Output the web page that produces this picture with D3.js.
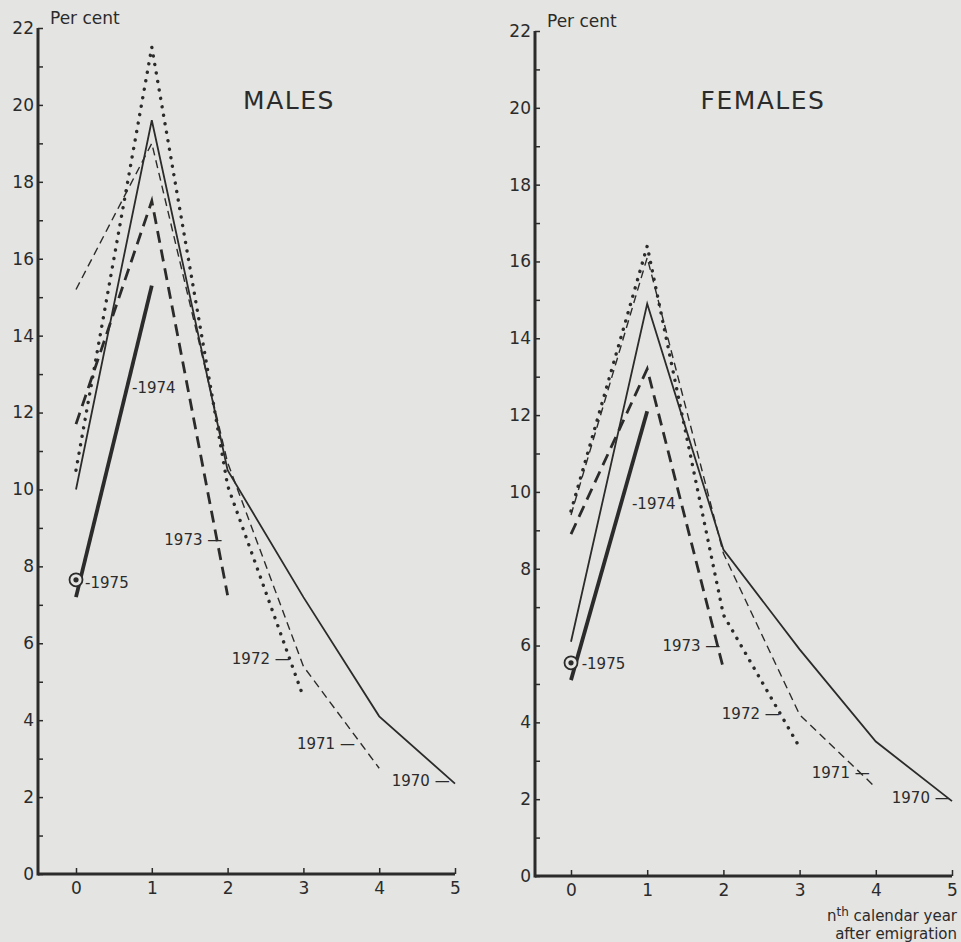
<!DOCTYPE html>
<html>
<head>
<meta charset="utf-8">
<script src="https://cdn.jsdelivr.net/npm/d3@7"></script>
<style>
  body { margin: 0; background: #e4e4e2; }
  svg text { font-family: "DejaVu Sans", sans-serif; fill: #2b2b2b; }
</style>
</head>
<body>
<script>
var w = 961, h = 942;

// years after emigration
var years = [0, 1, 2, 3, 4, 5];
var yTicks = d3.range(0, 23);
var cohorts = ["1970", "1971", "1972", "1973", "1974", "1975"];

// males, per cent re-emigrated by cohort
var males1970 = [10.0, 19.6, 10.5, 7.2, 4.1, 2.35];
var males1971 = [15.2, 19.0, 10.7, 5.4, 2.75];
var males1972 = [10.5, 21.5, 10.1, 4.6];
var males1973 = [11.7, 17.5, 7.25];
var males1974 = [7.2, 15.3];
var males1975 = [7.65];

// females
var females1970 = [6.1, 14.9, 8.5, 5.9, 3.5, 1.95];
var females1971 = [9.4, 16.1, 8.4, 4.2, 2.3];
var females1972 = [9.5, 16.4, 6.8, 3.35];
var females1973 = [8.9, 13.2, 5.4];
var females1974 = [5.1, 12.1];
var females1975 = [5.55];

// where the cohort labels sit, in data units [year, per cent]
var malesLabelPos = [[4.93, 2.3], [3.68, 3.25], [2.82, 5.45], [1.93, 8.55], [0.74, 12.5], [0.12, 7.45]];
var femalesLabelPos = [[4.97, 1.9], [3.92, 2.55], [2.74, 4.1], [1.96, 5.85], [0.8, 9.55], [0.14, 5.4]];

var ink = "#2b2b2b";

// line look per cohort
var styles = [
    {width: 1.8, dash: null, cap: "butt"},
    {width: 1.4, dash: "8,5", cap: "butt"},
    {width: 3.4, dash: "0.1,8.5", cap: "round"},
    {width: 2.8, dash: "12,7", cap: "butt"},
    {width: 3.8, dash: null, cap: "butt"}
];

var svg = d3.select("body")
    .append("svg")
    .attr("width", w)
    .attr("height", h);

svg.append("rect")
    .attr("width", w)
    .attr("height", h)
    .attr("fill", "#e4e4e2");

function drawPanel(p) {
    var g = svg.append("g");

    var xScale = d3.scaleLinear().domain([0, 5]).range(p.xRange);
    var yScale = d3.scaleLinear().domain([0, 22]).range(p.yRange);

    // y axis
    var yAxis = d3.axisLeft(yScale)
        .tickValues(yTicks)
        .tickSizeInner(-5)
        .tickSizeOuter(0)
        .tickPadding(4)
        .tickFormat(d => d % 2 == 0 ? d : "");

    var ya = g.append("g")
        .attr("transform", "translate(" + p.axisX + ",0)")
        .call(yAxis);
    ya.select(".domain").remove();
    ya.selectAll("line").attr("stroke", ink).attr("stroke-width", 1.5);
    ya.selectAll("text").attr("font-size", 17).attr("fill", ink);

    // x axis
    var xAxis = d3.axisBottom(xScale)
        .tickValues(years)
        .tickFormat(d3.format("d"))
        .tickSizeInner(-6)
        .tickSizeOuter(0)
        .tickPadding(8);

    var xa = g.append("g")
        .attr("transform", "translate(0," + yScale(0) + ")")
        .call(xAxis);
    xa.select(".domain").remove();
    xa.selectAll("line").attr("stroke", ink).attr("stroke-width", 1.5);
    xa.selectAll("text").attr("font-size", 17).attr("fill", ink);

    // heavy axis lines
    g.append("line")
        .attr("x1", p.axisX).attr("x2", p.axisX)
        .attr("y1", yScale(0) + 1.5).attr("y2", yScale(22))
        .attr("stroke", ink).attr("stroke-width", 3);
    g.append("line")
        .attr("x1", p.axisX).attr("x2", xScale(5))
        .attr("y1", yScale(0)).attr("y2", yScale(0))
        .attr("stroke", ink).attr("stroke-width", 3);

    g.append("text")
        .text("Per cent")
        .attr("x", p.axisX + 12)
        .attr("y", yScale(22) - 4)
        .attr("font-size", 17);

    g.append("text")
        .text(p.title)
        .attr("x", p.titleX)
        .attr("y", 109)
        .attr("text-anchor", "middle")
        .attr("font-size", 25)
        .attr("letter-spacing", 1.5);

    var line = d3.line()
        .x((d, i) => xScale(years[i]))
        .y(d => yScale(d));

    p.series.forEach(function(s, k) {
        if (s.length < 2) return;
        var st = styles[k];
        g.append("path")
            .attr("d", line(s))
            .attr("fill", "none")
            .attr("stroke", ink)
            .attr("stroke-width", st.width)
            .attr("stroke-dasharray", st.dash)
            .attr("stroke-linecap", st.cap)
            .attr("stroke-linejoin", "miter");
    });

    // the single 1975 point
    var last = p.series[5];
    g.append("circle")
        .attr("cx", xScale(years[0]))
        .attr("cy", yScale(last[0]))
        .attr("r", 6.5)
        .attr("fill", "#e4e4e2")
        .attr("stroke", ink)
        .attr("stroke-width", 1.8);
    g.append("circle")
        .attr("cx", xScale(years[0]))
        .attr("cy", yScale(last[0]))
        .attr("r", 2.6)
        .attr("fill", ink);

    // cohort labels
    cohorts.forEach(function(c, k) {
        var pos = p.labels[k];
        var leftSide = k >= 4;
        g.append("text")
            .text(leftSide ? "-" + c : c + " \u2014")
            .attr("x", xScale(pos[0]))
            .attr("y", yScale(pos[1]))
            .attr("text-anchor", leftSide ? "start" : "end")
            .attr("font-size", 15);
    });
}

drawPanel({
    title: "MALES",
    titleX: 289,
    axisX: 38,
    xRange: [76, 455],
    yRange: [874, 28],
    series: [males1970, males1971, males1972, males1973, males1974, males1975],
    labels: malesLabelPos
});

drawPanel({
    title: "FEMALES",
    titleX: 763,
    axisX: 535,
    xRange: [571, 952],
    yRange: [876, 31],
    series: [females1970, females1971, females1972, females1973, females1974, females1975],
    labels: femalesLabelPos
});

// axis title, bottom right
var cap = svg.append("text")
    .attr("x", 957)
    .attr("y", 921)
    .attr("text-anchor", "end")
    .attr("font-size", 15);
cap.append("tspan").text("n");
cap.append("tspan").text("th").attr("dy", -5).attr("font-size", 12);
cap.append("tspan").text(" calendar year").attr("dy", 5);

svg.append("text")
    .text("after emigration")
    .attr("x", 957)
    .attr("y", 939)
    .attr("text-anchor", "end")
    .attr("font-size", 15);
</script>
</body>
</html>
